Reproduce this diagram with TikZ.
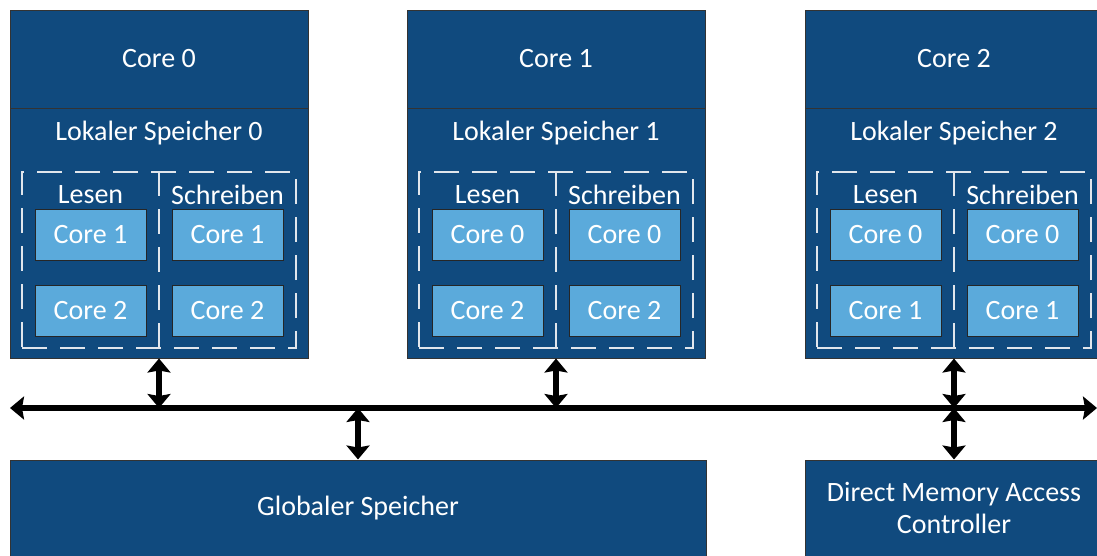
\documentclass[tikz,border=0pt]{standalone}
\usepackage{fontspec}
\setmainfont{Carlito}
\usetikzlibrary{arrows.meta}
\definecolor{dbluecolor}{RGB}{16,74,126}
\definecolor{lbluecolor}{RGB}{91,170,219}
\definecolor{dashcolor}{RGB}{225,230,236}
\begin{document}
\begin{tikzpicture}[x=1pt,y=-1pt,>={Stealth[length=14pt,width=23pt,inset=2pt]},
  every node/.style={font=\fontsize{28}{32}\selectfont,text=white},
  darkbox/.style={draw=black!80,line width=1pt,fill=dbluecolor,inner sep=0pt},
  lightbox/.style={draw=black!85,line width=1pt,fill=lbluecolor,minimum width=111pt,minimum height=51pt,inner sep=0pt},
  dashbox/.style={draw=dashcolor,dash pattern=on 25pt off 13pt,line width=1.6pt,minimum width=274pt,minimum height=176pt,inner sep=0pt},
  divider/.style={draw=dashcolor,dash pattern=on 25pt off 13pt,line width=1.6pt},
  link/.style={<->,line width=6pt}]
\useasboundingbox (0,0) rectangle (1097,555);
\node[darkbox,minimum width=298pt,minimum height=98pt] (core0) at (159,59) {Core 0};
\node[darkbox,minimum width=298pt,minimum height=250pt] (ls0) at (159,233) {};
\node (ls0t) at (159,133) {Lokaler Speicher 0};
\node[dashbox] (rw0) at (159,260) {};
\draw[divider] (rw0.north) -- (rw0.south);
\node (rd0t) at (90.5,195) {Lesen};
\node (wr0t) at (227.5,195) {Schreiben};
\node[lightbox] (rd0a) at (90.5,234.5) {Core 1};
\node[lightbox] (rd0b) at (90.5,310.5) {Core 2};
\node[lightbox] (wr0a) at (227.5,234.5) {Core 1};
\node[lightbox] (wr0b) at (227.5,310.5) {Core 2};
\node[darkbox,minimum width=298pt,minimum height=98pt] (core1) at (556,59) {Core 1};
\node[darkbox,minimum width=298pt,minimum height=250pt] (ls1) at (556,233) {};
\node (ls1t) at (556,133) {Lokaler Speicher 1};
\node[dashbox] (rw1) at (556,260) {};
\draw[divider] (rw1.north) -- (rw1.south);
\node (rd1t) at (487.5,195) {Lesen};
\node (wr1t) at (624.5,195) {Schreiben};
\node[lightbox] (rd1a) at (487.5,234.5) {Core 0};
\node[lightbox] (rd1b) at (487.5,310.5) {Core 2};
\node[lightbox] (wr1a) at (624.5,234.5) {Core 0};
\node[lightbox] (wr1b) at (624.5,310.5) {Core 2};
\node[darkbox,minimum width=298pt,minimum height=98pt] (core2) at (954,59) {Core 2};
\node[darkbox,minimum width=298pt,minimum height=250pt] (ls2) at (954,233) {};
\node (ls2t) at (954,133) {Lokaler Speicher 2};
\node[dashbox] (rw2) at (954,260) {};
\draw[divider] (rw2.north) -- (rw2.south);
\node (rd2t) at (885.5,195) {Lesen};
\node (wr2t) at (1022.5,195) {Schreiben};
\node[lightbox] (rd2a) at (885.5,234.5) {Core 0};
\node[lightbox] (rd2b) at (885.5,310.5) {Core 1};
\node[lightbox] (wr2a) at (1022.5,234.5) {Core 0};
\node[lightbox] (wr2b) at (1022.5,310.5) {Core 1};
\node[darkbox,minimum width=696pt,minimum height=96pt] (glob) at (358,508) {Globaler Speicher};
\node[darkbox,minimum width=298pt,minimum height=96pt,align=center] (dma) at (954,508) {Direct Memory Access\\Controller};
% bus
\coordinate (busw) at (10,408);
\coordinate (buse) at (1097,408);
\coordinate (j0) at (159,408);
\coordinate (j1) at (556,408);
\coordinate (j2) at (954,408);
\coordinate (jg) at (358,408);
\draw[link] (busw) -- (buse);
\draw[link] (ls0) -- (j0);
\draw[link] (ls1) -- (j1);
\draw[link] (ls2) -- (j2);
\draw[link] (jg) -- (glob);
\draw[link] (j2) -- (dma);
\end{tikzpicture}
\end{document}
